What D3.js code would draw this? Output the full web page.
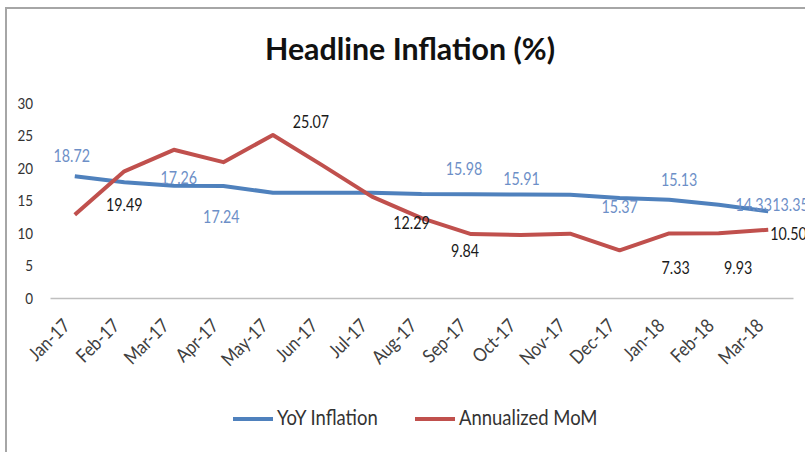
<!DOCTYPE html>
<html lang="en">
<head>
<meta charset="UTF-8">
<title>Headline Inflation (%)</title>
<script src="https://d3js.org/d3.v7.min.js"></script>
<style>
  body { margin: 0; background: #fff; }
  svg text { font-family: Lato, "Open Sans", sans-serif; }
</style>
</head>
<body>
<svg id="chart" width="805" height="452"></svg>
<script>
const months = ["Jan-17", "Feb-17", "Mar-17", "Apr-17", "May-17", "Jun-17", "Jul-17", "Aug-17",
                "Sep-17", "Oct-17", "Nov-17", "Dec-17", "Jan-18", "Feb-18", "Mar-18"];
const yoyInflation  = [18.72, 17.8, 17.26, 17.24, 16.2, 16.2, 16.2, 16.0, 15.98, 15.91, 15.9, 15.37, 15.13, 14.33, 13.35];
const annualizedMoM = [12.8, 19.49, 22.8, 20.9, 25.07, 20.4, 15.6, 12.29, 9.84, 9.7, 9.9, 7.33, 9.93, 9.95, 10.50];
const yTicks = [0, 5, 10, 15, 20, 25, 30];
const seriesNames = ["YoY Inflation", "Annualized MoM"];

// labelled points (index into series) and where each label was dragged to
const yoyLabels = [
  {i: 0, dx: -3, dy: -14}, {i: 2, dx: 5, dy: -2}, {i: 3, dx: -2, dy: 37},
  {i: 8, dx: -7, dy: -19}, {i: 9, dx: 1, dy: -10}, {i: 11, dx: 0, dy: 15},
  {i: 12, dx: 10, dy: -14}, {i: 13, dx: 35, dy: 6}, {i: 14, dx: 4, dy: 0, anchor: "start"}
];
const momLabels = [
  {i: 1, dx: 0, dy: 40}, {i: 4, dx: 38, dy: -7}, {i: 7, dx: -10, dy: 11},
  {i: 8, dx: -6, dy: 23}, {i: 11, dx: 56, dy: 24}, {i: 12, dx: 69, dy: 41},
  {i: 14, dx: 2, dy: 10, anchor: "start"}
];

const blue = "#4f81bd", red = "#c0504d";
const K = 0.84; // horizontal squeeze of the text

const svg = d3.select("#chart");

// squeeze text horizontally around its own anchor
function squeeze(sel, k) {
  sel.each(function () {
    const t = d3.select(this);
    const x = +t.attr("x") || 0, y = +t.attr("y") || 0;
    const prev = t.attr("transform") || "";
    t.attr("transform", `${prev} translate(${x},${y}) scale(${k},1) translate(${-x},${-y})`);
  });
}

// frame (only top and left edges are visible)
svg.append("path")
  .attr("d", "M6,452 V8 H805")
  .attr("fill", "none")
  .attr("stroke", "#a6a6a6")
  .attr("stroke-width", 2);

svg.append("text")
  .attr("x", 410).attr("y", 60)
  .attr("text-anchor", "middle")
  .attr("font-size", 30).attr("font-weight", "bold")
  .attr("fill", "#111")
  .attr("textLength", 290).attr("lengthAdjust", "spacingAndGlyphs")
  .text("Headline Inflation (%)");

const x = d3.scalePoint().domain(months).range([50, 793]).padding(0.5);
const y = d3.scaleLinear().domain([0, 30]).range([298, 103]);

// y axis: labels only
const yAxis = svg.append("g")
  .attr("transform", "translate(50,0)")
  .call(d3.axisLeft(y).tickValues(yTicks).tickSize(0).tickPadding(17));
yAxis.select(".domain").remove();
yAxis.selectAll("text")
  .attr("font-family", null)
  .attr("font-size", 16)
  .attr("fill", "#333")
  .call(squeeze, K);

// x axis
const xAxis = svg.append("g")
  .attr("transform", "translate(0,298)")
  .call(d3.axisBottom(x).tickSize(0));
xAxis.select(".domain").attr("stroke", "#bfbfbf").attr("stroke-width", 1.5);
xAxis.selectAll("text")
  .attr("font-family", null)
  .attr("font-size", 19)
  .attr("fill", "#404040")
  .attr("y", 0).attr("dy", null)
  .attr("text-anchor", "end")
  .attr("transform", "translate(-4,29) rotate(-45)")
  .call(squeeze, 0.87);

const line = d3.line()
  .x((d, i) => x(months[i]))
  .y(d => y(d));

svg.append("path")
  .datum(yoyInflation)
  .attr("d", line)
  .attr("fill", "none")
  .attr("stroke", blue)
  .attr("stroke-width", 4)
  .attr("stroke-linejoin", "round");

svg.append("path")
  .datum(annualizedMoM)
  .attr("d", line)
  .attr("fill", "none")
  .attr("stroke", red)
  .attr("stroke-width", 4)
  .attr("stroke-linejoin", "round");

function drawLabels(labels, values, color) {
  svg.append("g")
    .selectAll("text")
    .data(labels)
    .join("text")
    .attr("x", d => x(months[d.i]) + d.dx)
    .attr("y", d => y(values[d.i]) + d.dy)
    .attr("text-anchor", d => d.anchor || "middle")
    .attr("font-size", 17)
    .attr("fill", color)
    .text(d => d3.format(".2f")(values[d.i]))
    .call(squeeze, K);
}
drawLabels(yoyLabels, yoyInflation, "#6d8fc7");
drawLabels(momLabels, annualizedMoM, "#1a1a1a");

// legend
const legend = svg.append("g")
  .selectAll("g")
  .data(seriesNames)
  .join("g")
  .attr("transform", (d, i) => `translate(${[233, 415][i]},0)`);
legend.append("line")
  .attr("x1", 0).attr("x2", 40)
  .attr("y1", 419).attr("y2", 419)
  .attr("stroke", (d, i) => [blue, red][i])
  .attr("stroke-width", 4);
legend.append("text")
  .attr("x", 44).attr("y", 425)
  .attr("font-size", 22)
  .attr("fill", "#333")
  .text(d => d)
  .call(squeeze, K);
</script>
</body>
</html>
